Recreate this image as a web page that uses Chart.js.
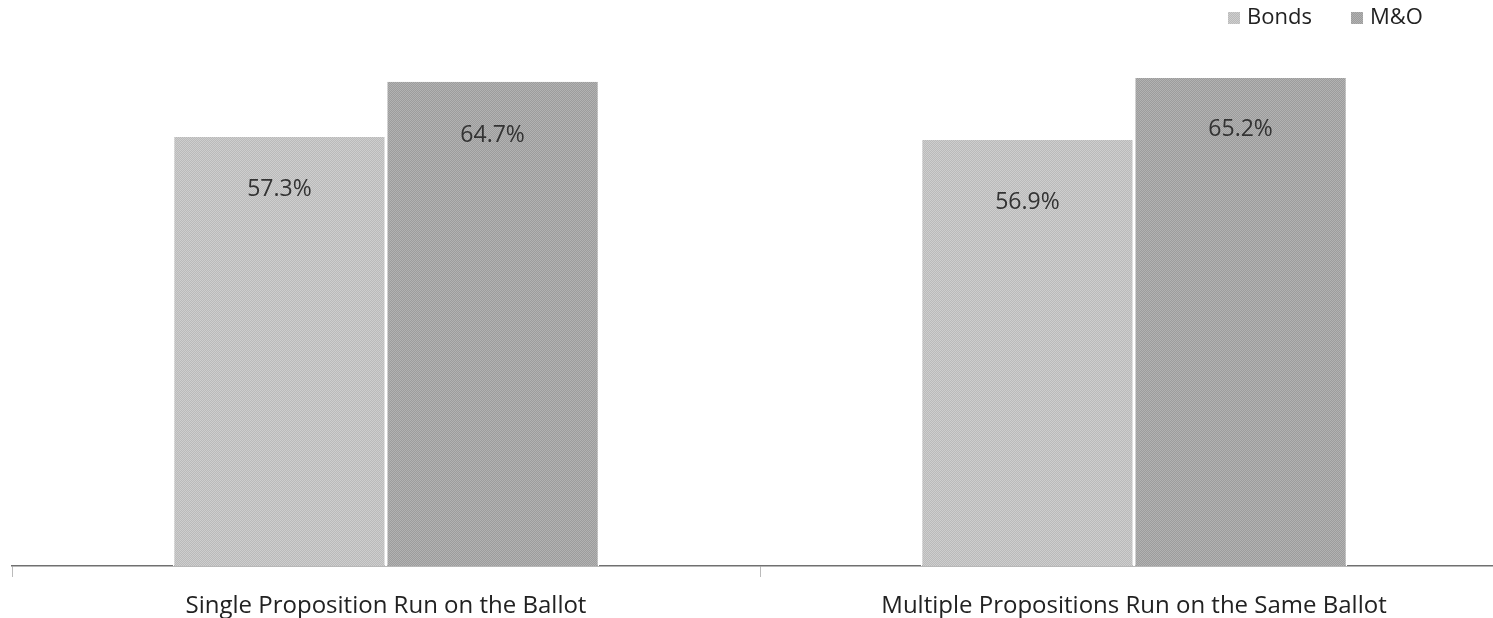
<!DOCTYPE html>
<html>
<head>
<meta charset="utf-8">
<script src="https://cdn.jsdelivr.net/npm/chart.js@4/dist/chart.umd.min.js"></script>
<style>
  html, body { margin: 0; padding: 0; background: #fff; overflow: hidden; }
  #wrap { position: relative; width: 1510px; height: 618px; }
</style>
</head>
<body>
<div id="wrap"><canvas id="c" width="1510" height="618"></canvas></div>
<script>
const categories = ["Single Proposition Run on the Ballot", "Multiple Propositions Run on the Same Ballot"];
const seriesNames = ["Bonds", "M&O"];
const bondsValues = [57.3, 56.9];
const moValues = [64.7, 65.2];
const seriesShades = [["#cecece", "#bababa"], ["#b2b2b2", "#9c9c9c"]];
const FONT = "'Open Sans'";

function ditherPattern(c1, c2) {
  const p = document.createElement('canvas');
  p.width = 2; p.height = 2;
  const g = p.getContext('2d');
  g.fillStyle = c1; g.fillRect(0, 0, 2, 2);
  g.fillStyle = c2; g.fillRect(1, 0, 1, 1); g.fillRect(0, 1, 1, 1);
  return document.getElementById('c').getContext('2d').createPattern(p, 'repeat');
}
const fills = seriesShades.map(s => ditherPattern(s[0], s[1]));

const labelPlugin = {
  id: 'barLabels',
  afterDatasetsDraw(chart) {
    const ctx = chart.ctx;
    ctx.save();
    ctx.font = "23px " + FONT;
    ctx.fillStyle = "#333";
    ctx.textAlign = "center";
    ctx.textBaseline = "middle";
    const offsets = [[52, 62], [54, 52]];
    chart.data.datasets.forEach((ds, di) => {
      chart.getDatasetMeta(di).data.forEach((bar, i) => {
        ctx.fillText(ds.data[i].toFixed(1) + "%", bar.x, bar.y + offsets[di][i]);
      });
    });
    ctx.restore();
  }
};

const legendPlugin = {
  id: 'customLegend',
  afterDraw(chart) {
    const ctx = chart.ctx;
    ctx.save();
    ctx.font = "22px " + FONT;
    ctx.textBaseline = "middle";
    ctx.textAlign = "left";
    const xs = [1228, 1351];
    chart.data.datasets.forEach((ds, di) => {
      ctx.fillStyle = ds.backgroundColor;
      ctx.fillRect(xs[di], 12, 12, 12);
      ctx.fillStyle = "#222";
      ctx.fillText(ds.label, xs[di] + 19, 18);
    });
    ctx.restore();
  }
};

new Chart(document.getElementById('c'), {
  type: 'bar',
  data: {
    labels: categories,
    datasets: [
      { label: seriesNames[0], data: bondsValues, backgroundColor: fills[0] },
      { label: seriesNames[1], data: moValues, backgroundColor: fills[1] }
    ]
  },
  options: {
    responsive: false,
    animation: false,
    layout: { padding: { left: 12, right: 2, top: 42, bottom: -17 } },
    datasets: {
      bar: {
        categoryPercentage: 0.57,
        barPercentage: 1.0,
        borderColor: "#ffffff",
        borderWidth: { left: 1.5, right: 1.5, top: 0, bottom: 0 },
        borderSkipped: 'bottom'
      }
    },
    plugins: {
      legend: { display: false },
      tooltip: { enabled: false }
    },
    scales: {
      x: {
        grid: {
          display: true,
          offset: true,
          drawOnChartArea: false,
          drawTicks: true,
          tickLength: 11,
          color: "#bbbbbb"
        },
        border: { display: true, color: "#707070", width: 1.5 },
        ticks: {
          color: "#222",
          font: { family: "Open Sans", size: 24 },
          padding: 14.6,
          maxRotation: 0
        }
      },
      y: {
        display: false,
        min: 0,
        max: 70
      }
    }
  },
  plugins: [labelPlugin, legendPlugin]
});
</script>
</body>
</html>
